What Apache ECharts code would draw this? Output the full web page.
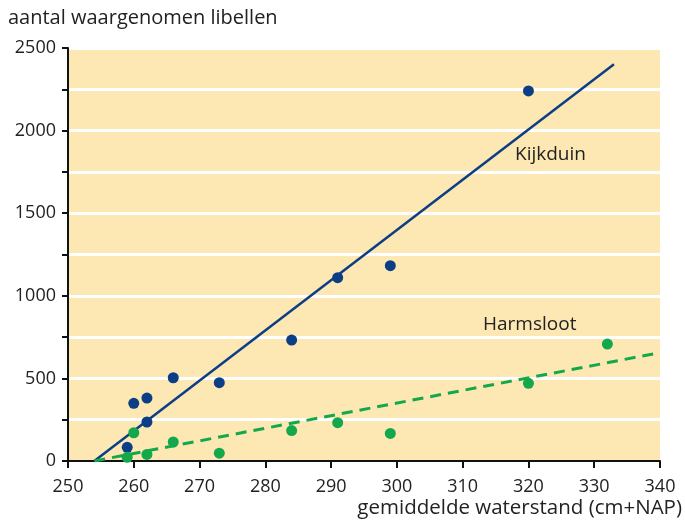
<!DOCTYPE html>
<html>
<head>
<meta charset="utf-8">
<script src="https://cdn.jsdelivr.net/npm/echarts@6/dist/echarts.min.js"></script>
<style>
  html, body { margin: 0; padding: 0; background: #fff; }
  #chart { width: 685px; height: 522px; }
</style>
</head>
<body>
<div id="chart"></div>
<script>
// waterstand (cm+NAP) vs aantal libellen
const kijkduinX = [259, 260, 262, 262, 266, 273, 284, 291, 299, 320];
const kijkduinY = [83, 349, 381, 236, 504, 474, 732, 1110, 1182, 2240];
const harmslootX = [259, 260, 262, 266, 273, 284, 291, 299, 320, 332];
const harmslootY = [22, 171, 40, 115, 47, 184, 232, 167, 470, 708];

// trend lines (start/end)
const kijkduinTrend = [[254, 0], [333, 2402]];
const harmslootTrend = [[254, 0], [340, 656]];

const FONT = 'Open Sans';
const BLUE = '#0c3e86';
const GREEN = '#13a84b';

var chart = echarts.init(document.getElementById('chart'));
chart.setOption({
  animation: false,
  grid: {
    left: 68, right: 25, top: 48, bottom: 61,
    show: true,
    backgroundColor: '#fde8b3',
    borderWidth: 0
  },
  xAxis: {
    type: 'value',
    min: 250, max: 340, interval: 10,
    axisLine: { lineStyle: { color: '#111', width: 2 } },
    axisTick: { show: true, length: 7, lineStyle: { color: '#111', width: 2 } },
    axisLabel: { color: '#222', fontFamily: FONT, fontSize: 18, margin: 17 },
    splitLine: { show: false }
  },
  yAxis: {
    type: 'value',
    min: 0, max: 2500, interval: 250,
    axisLine: { show: true, lineStyle: { color: '#111', width: 2 } },
    axisTick: { show: true, length: 6, lineStyle: { color: '#111', width: 2 } },
    axisLabel: {
      color: '#222', fontFamily: FONT, fontSize: 18, margin: 12,
      formatter: function (v) { return v % 500 === 0 ? String(v) : ''; }
    },
    splitLine: { show: true, lineStyle: { color: '#ffffff', width: 3 } }
  },
  graphic: [
    { type: 'text', left: 8, top: 8,
      style: { text: 'aantal waargenomen libellen', fill: '#222', font: '20px "Open Sans"' } },
    { type: 'text', right: 3, top: 498,
      style: { text: 'gemiddelde waterstand (cm+NAP)', fill: '#222', font: '20.5px "Open Sans"' } },
    { type: 'text', left: 515, top: 145,
      style: { text: 'Kijkduin', fill: '#222', font: '19px "Open Sans"' } },
    { type: 'text', left: 483, top: 315,
      style: { text: 'Harmsloot', fill: '#222', font: '19px "Open Sans"' } }
  ],
  series: [
    {
      type: 'line',
      data: kijkduinTrend,
      symbol: 'none',
      lineStyle: { color: BLUE, width: 2.5 },
      z: 2
    },
    {
      type: 'line',
      data: harmslootTrend,
      symbol: 'none',
      lineStyle: { color: GREEN, width: 3, type: [11, 7] },
      z: 2
    },
    {
      type: 'scatter',
      data: kijkduinX.map(function (x, i) { return [x, kijkduinY[i]]; }),
      symbolSize: 11,
      itemStyle: { color: BLUE, opacity: 1 },
      z: 3
    },
    {
      type: 'scatter',
      data: harmslootX.map(function (x, i) { return [x, harmslootY[i]]; }),
      symbolSize: 11,
      itemStyle: { color: GREEN, opacity: 1 },
      z: 3
    }
  ]
});
</script>
</body>
</html>
